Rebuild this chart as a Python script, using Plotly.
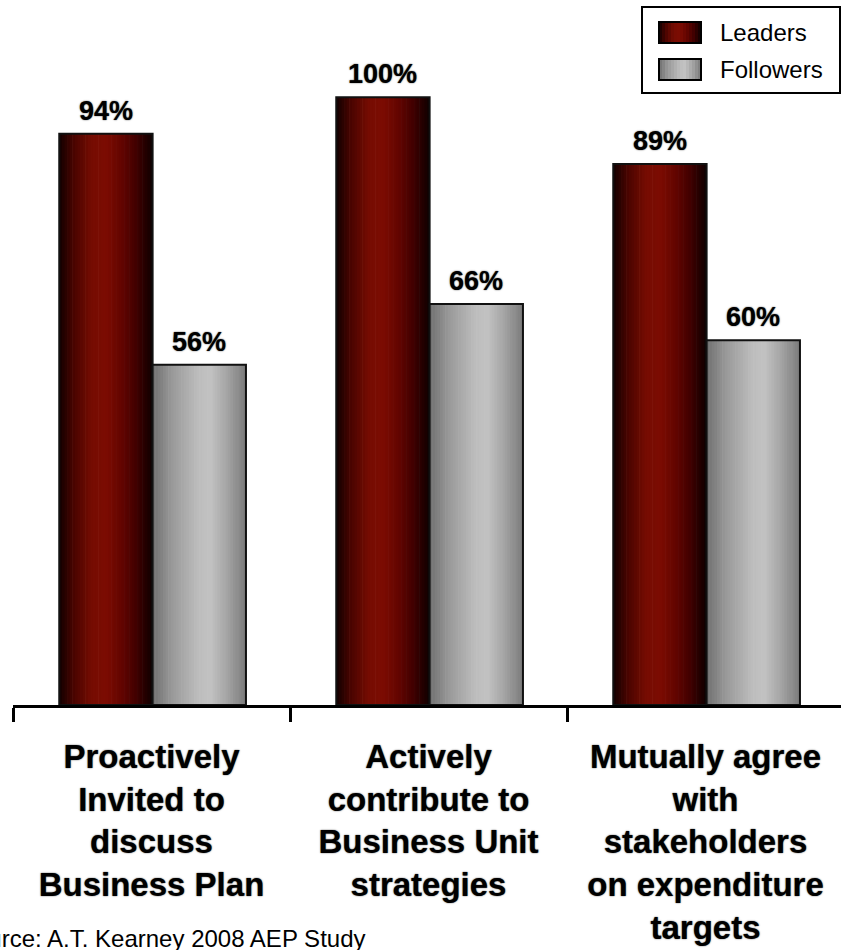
import plotly.graph_objects as go

# ---- data ----
categories = [
    "Proactively<br>Invited to<br>discuss<br>Business Plan",
    "Actively<br>contribute to<br>Business Unit<br>strategies",
    "Mutually agree<br>with<br>stakeholders<br>on expenditure<br>targets",
]
leaders = [94, 100, 89]
followers = [56, 66, 60]
series_names = ["Leaders", "Followers"]
source_note = "Source: A.T. Kearney 2008 AEP Study"

# ---- geometry / style ----
W, H = 841, 950
ML, MT, MB = 13, 0, 245
PLOT_W = 828
PLOT_H = H - MT - MB
CAT_PX = 277                       # pixel width of one category slot
X_RANGE = [-0.5, -0.5 + PLOT_W / CAT_PX]
Y_RANGE = [0, 116]

BAR_W = 0.337
OFFSETS = {"Leaders": -0.333, "Followers": 0.004}
N_SLICES = 36

# horizontal shading profiles (position 0..1 across the bar -> rgb)
PROFILES = {
    "Leaders": [(0.0, (18, 0, 0)), (0.15, (72, 4, 0)), (0.35, (118, 12, 2)),
                (0.5, (124, 12, 2)), (0.66, (100, 5, 0)), (0.82, (66, 0, 0)),
                (1.0, (14, 0, 0))],
    "Followers": [(0.0, (112, 112, 112)), (0.2, (152, 152, 152)), (0.5, (190, 190, 190)),
                  (0.62, (194, 194, 194)), (0.82, (160, 160, 160)), (1.0, (122, 122, 122))],
}

FONT = "Liberation Sans, Arial, sans-serif"


def shade(name, t):
    prof = PROFILES[name]
    for (t0, c0), (t1, c1) in zip(prof[:-1], prof[1:]):
        if t0 <= t <= t1:
            f = (t - t0) / (t1 - t0) if t1 > t0 else 0
            r, g, b = (round(a + (bb - a) * f) for a, bb in zip(c0, c1))
            return f"rgb({r},{g},{b})"
    r, g, b = prof[-1][1]
    return f"rgb({r},{g},{b})"


values = {"Leaders": leaders, "Followers": followers}

fig = go.Figure()

# shaded bars built from thin vertical slices
step = BAR_W / N_SLICES
for name in series_names:
    for k in range(N_SLICES):
        t = (k + 0.5) / N_SLICES
        w = step * (1.25 if k < N_SLICES - 1 else 1.0)
        fig.add_trace(go.Bar(
            x=categories, y=values[name],
            width=[w] * 3, offset=[OFFSETS[name] + k * step] * 3,
            marker=dict(color=shade(name, t), line=dict(width=0)),
            showlegend=False, hoverinfo="skip",
        ))
    # outline on top
    fig.add_trace(go.Bar(
        x=categories, y=values[name], name=name,
        width=[BAR_W] * 3, offset=[OFFSETS[name]] * 3,
        marker=dict(color="rgba(0,0,0,0)", line=dict(color="#111", width=2)),
        showlegend=False,
    ))

# value labels
label_font = dict(family=FONT, size=27, color="black",
                  weight="bold", shadow="0px 0px 1.5px #333")
annotations = []
for name in series_names:
    for i, v in enumerate(values[name]):
        annotations.append(dict(
            x=i + OFFSETS[name] + BAR_W / 2, y=v, xref="x", yref="y",
            text=f"{v}%", showarrow=False, yanchor="middle", yshift=23,
            font=label_font,
        ))


def px_x(p):
    return (p - ML) / PLOT_W


def px_y(p):
    return (MT + PLOT_H - p) / PLOT_H


# source note (runs off the left edge)
annotations.append(dict(
    x=px_x(368), y=px_y(938), xref="paper", yref="paper", xanchor="right", yanchor="middle",
    text=source_note, showarrow=False,
    font=dict(family=FONT, size=24, color="black"),
))

# legend box
shapes = [dict(type="rect", xref="paper", yref="paper",
               x0=px_x(642), x1=px_x(840), y0=px_y(7), y1=px_y(93),
               line=dict(color="black", width=2), fillcolor="white", layer="above")]
legend_rows = [("Leaders", 22, 43), ("Followers", 59, 80)]
SW_X0, SW_X1 = 659, 701
n_sw = 14
for name, ytop, ybot in legend_rows:
    sw = (SW_X1 - SW_X0) / n_sw
    for k in range(n_sw):
        shapes.append(dict(type="rect", xref="paper", yref="paper",
                           x0=px_x(SW_X0 + k * sw), x1=px_x(SW_X0 + (k + 1) * sw + 0.6),
                           y0=px_y(ytop), y1=px_y(ybot),
                           line=dict(width=0), fillcolor=shade(name, (k + 0.5) / n_sw),
                           layer="above"))
    shapes.append(dict(type="rect", xref="paper", yref="paper",
                       x0=px_x(SW_X0), x1=px_x(SW_X1), y0=px_y(ytop), y1=px_y(ybot),
                       line=dict(color="black", width=2), layer="above"))
    annotations.append(dict(
        x=px_x(718), y=px_y((ytop + ybot) / 2), xref="paper", yref="paper",
        xanchor="left", yanchor="middle", text=name, showarrow=False,
        font=dict(family=FONT, size=24, color="black"),
    ))

fig.update_layout(
    width=W, height=H,
    margin=dict(l=ML, r=W - ML - PLOT_W, t=MT, b=MB, pad=0),
    paper_bgcolor="white", plot_bgcolor="white",
    barmode="overlay",
    showlegend=False,
    annotations=annotations,
    shapes=shapes,
    xaxis=dict(
        type="category", range=X_RANGE, tickson="boundaries",
        ticks="outside", ticklen=14, tickwidth=2.5, tickcolor="black",
        showline=True, linecolor="black", linewidth=3,
        showgrid=False, zeroline=False, ticklabelstandoff=20,
        tickfont=dict(family=FONT, size=33, color="black",
                      weight="bold", shadow="0px 0px 1.5px #333"),
    ),
    yaxis=dict(range=Y_RANGE, visible=False, showgrid=False, zeroline=False),
)

fig.write_html("out.html")
